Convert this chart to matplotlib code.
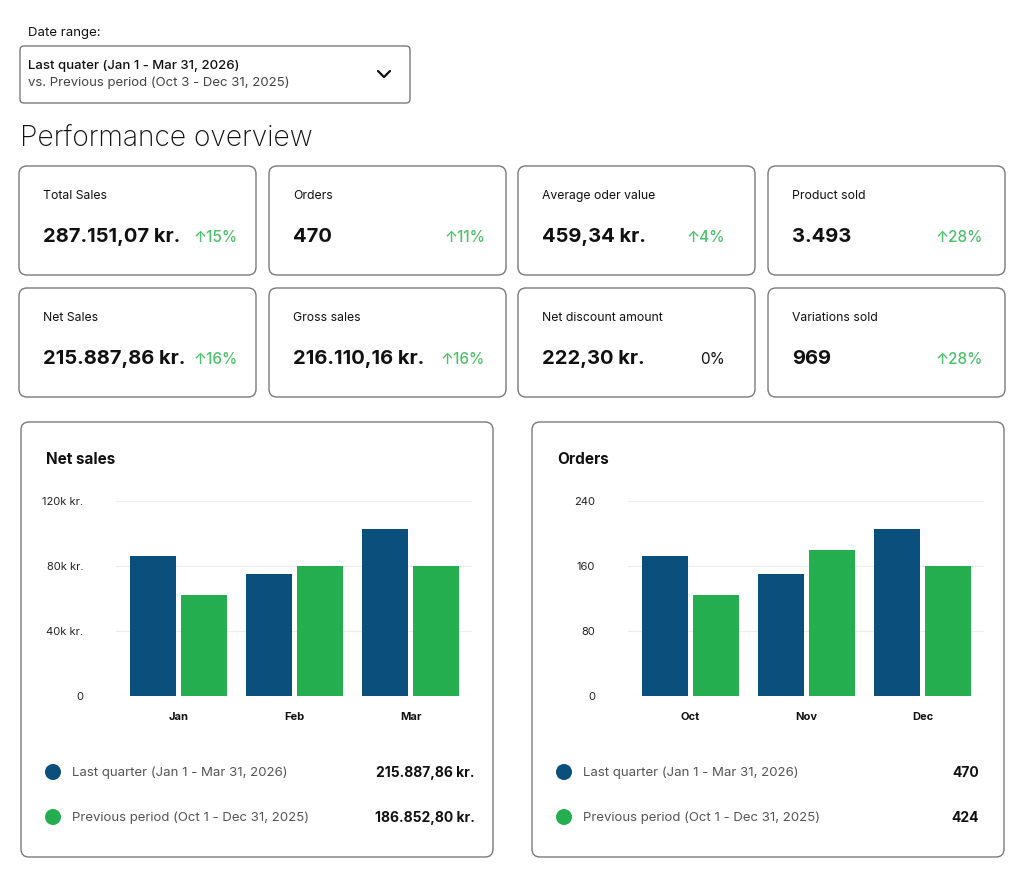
import matplotlib
matplotlib.use("Agg")
import matplotlib.pyplot as plt
from matplotlib.patches import FancyBboxPatch, Circle
import numpy as np

plt.rcParams['font.family'] = ['Inter', 'DejaVu Sans']

# ---- data ----
kpi_labels = ['Total Sales', 'Orders', 'Average oder value', 'Product sold',
              'Net Sales', 'Gross sales', 'Net discount amount', 'Variations sold']
kpi_values = ['287.151,07 kr.', '470', '459,34 kr.', '3.493',
              '215.887,86 kr.', '216.110,16 kr.', '222,30 kr.', '969']
kpi_changes = ['15%', '11%', '4%', '28%', '16%', '16%', '0%', '28%']
kpi_up = [True, True, True, True, True, True, False, True]

sales_months = ['Jan', 'Feb', 'Mar']
sales_last = [86000, 75000, 102500]
sales_prev = [62000, 80000, 80000]
sales_ticks = [0, 40000, 80000, 120000]
sales_ticklabels = ['0', '40k kr.', '80k kr.', '120k kr.']
sales_totals = ['215.887,86 kr.', '186.852,80 kr.']

order_months = ['Oct', 'Nov', 'Dec']
orders_last = [172, 150, 205]
orders_prev = [124, 180, 160]
order_ticks = [0, 80, 160, 240]
order_ticklabels = ['0', '80', '160', '240']
order_totals = ['470', '424']

legend_labels = ['Last quarter (Jan 1 - Mar 31, 2026)', 'Previous period (Oct 1 - Dec 31, 2025)']

BLUE = '#0b4f7c'
GREEN = '#24ae50'
UPGREEN = '#4cc26a'
BORDER = '#7a7a7a'
W, H = 1024, 894

fig = plt.figure(figsize=(W / 100, H / 100), dpi=100)
bg = fig.add_axes([0, 0, 1, 1])
bg.set_xlim(0, W)
bg.set_ylim(H, 0)
bg.axis('off')


def card(x0, y0, x1, y1, r=8):
    bg.add_patch(FancyBboxPatch((x0, y0), x1 - x0, y1 - y0,
                                boxstyle=f"round,pad=0,rounding_size={r}",
                                fc='white', ec=BORDER, lw=1.0))


# date range selector
bg.text(28, 33, 'Date range:', fontsize=9.5, va='center', color='#111')
card(20, 46, 410, 103, r=4)
bg.text(28, 66, 'Last quater (Jan 1 - Mar 31, 2026)', fontsize=9.5,
        fontweight='medium', va='center', color='#111')
bg.text(28, 83, 'vs. Previous period (Oct 3 - Dec 31, 2025)', fontsize=9.5,
        va='center', color='#444')
bg.plot([378, 384, 390], [71, 77, 71], color='#111', lw=1.6,
        solid_capstyle='round', solid_joinstyle='round')

bg.text(20, 139, 'Performance overview', fontsize=20.3, fontweight='light',
        va='center', color='#111')

# KPI cards
col_x = [19, 269, 518, 768]
row_y = [166, 288]
pct_off = [219, 216, 207, 215]
for i, (lab, val, ch, up) in enumerate(zip(kpi_labels, kpi_values, kpi_changes, kpi_up)):
    cx = col_x[i % 4]
    cy = row_y[i // 4]
    card(cx, cy, cx + 237, cy + 109)
    bg.text(cx + 24, cy + 30, lab, fontsize=8.8, va='center', color='#111')
    bg.text(cx + 24, cy + 71, val, fontsize=14.5, fontweight='bold',
            va='center', color='#111')
    txt = ('↑' + ch) if up else ch
    bg.text(cx + pct_off[i % 4], cy + 72, txt, fontsize=11, ha='right',
            va='center', color=UPGREEN if up else '#111',
            fontweight='medium' if up else 'normal')

# chart cards
charts = [
    dict(x=21, title='Net sales', ax_left=116, months=sales_months,
         last=sales_last, prev=sales_prev, ticks=sales_ticks,
         ticklabels=sales_ticklabels, totals=sales_totals, val_right=475),
    dict(x=532, title='Orders', ax_left=628, months=order_months,
         last=orders_last, prev=orders_prev, ticks=order_ticks,
         ticklabels=order_ticklabels, totals=order_totals, val_right=979),
]

for c in charts:
    x0 = c['x']
    card(x0, 422, x0 + 472, 857)
    bg.text(x0 + 25, 460, c['title'], fontsize=11, fontweight='bold',
            va='center', color='#111')

    ax = fig.add_axes([c['ax_left'] / W, (H - 696) / H, 356 / W, 195 / H])
    xs = np.arange(len(c['months']))
    bw = 0.397
    off = 0.22
    ax.bar(xs - off, c['last'], width=bw, color=BLUE, zorder=3)
    ax.bar(xs + off, c['prev'], width=bw, color=GREEN, zorder=3)
    ax.set_xlim(-0.539, 2.53)
    ax.set_ylim(0, c['ticks'][-1])
    ax.set_yticks(c['ticks'])
    ax.set_yticklabels(c['ticklabels'])
    ax.set_xticks(xs)
    ax.set_xticklabels(c['months'], fontweight='bold')
    ax.tick_params(axis='y', length=0, pad=23.5, labelsize=8, labelcolor='#222')
    ax.tick_params(axis='x', length=0, pad=11.5, labelsize=8, labelcolor='#111')
    ax.grid(axis='y', color='#ececec', lw=0.8, zorder=0)
    for s in ax.spines.values():
        s.set_visible(False)
    ax.set_facecolor('none')

    # legend rows
    for j, (lab, tot, col) in enumerate(zip(legend_labels, c['totals'], [BLUE, GREEN])):
        ly = 772 + 45 * j
        bg.add_patch(Circle((x0 + 32, ly), 8, fc=col, ec='none'))
        bg.text(x0 + 51, ly + 1, lab, fontsize=9.5, va='center', color='#555')
        bg.text(c['val_right'], ly + 1, tot, fontsize=10, fontweight='bold',
                ha='right', va='center', color='#111')

fig.savefig('out.png', dpi=100, facecolor='white')
